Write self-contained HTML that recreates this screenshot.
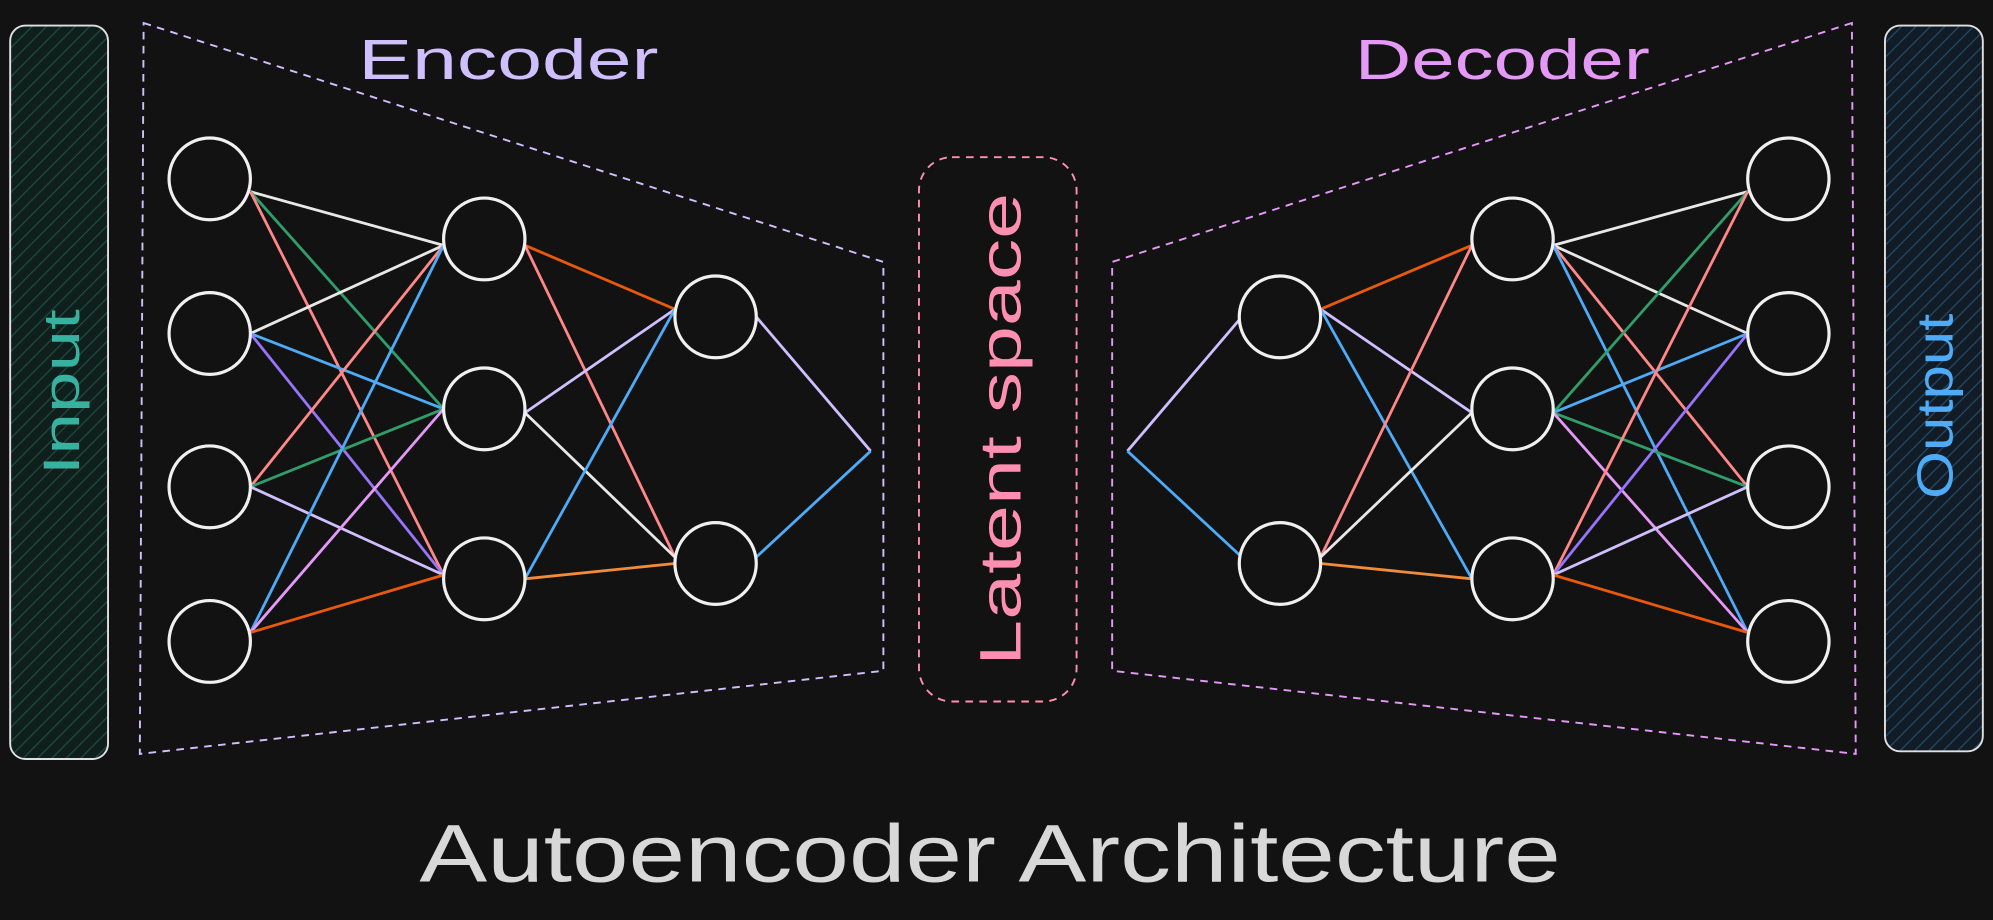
<!DOCTYPE html>
<html><head><meta charset="utf-8"><style>
html,body{margin:0;padding:0;background:#121212;}
svg{display:block;}
text{font-family:"Liberation Sans",sans-serif;}
</style></head><body>
<svg width="1993" height="920" viewBox="0 0 1568 720" preserveAspectRatio="none" xmlns="http://www.w3.org/2000/svg">
<defs>
<pattern id="hg" width="8" height="8" patternUnits="userSpaceOnUse" patternTransform="rotate(45)"><rect width="8" height="8" fill="#0f1f1c"/><line x1="0" y1="0" x2="0" y2="8" stroke="#1f4a40" stroke-width="2"/></pattern>
<pattern id="hb" width="8" height="8" patternUnits="userSpaceOnUse" patternTransform="rotate(45)"><rect width="8" height="8" fill="#111c26"/><line x1="0" y1="0" x2="0" y2="8" stroke="#234a66" stroke-width="2"/></pattern>
</defs>
<rect width="1568" height="720" fill="#121212"/>
<rect x="8" y="20" width="77" height="574" rx="12" fill="url(#hg)" stroke="#e0e0e0" stroke-width="1.5"/>
<text transform="translate(62,307) rotate(-90)" text-anchor="middle" font-size="40" fill="#38b2a0" textLength="130" lengthAdjust="spacingAndGlyphs">Input</text>
<rect x="1483" y="20" width="77" height="568" rx="12" fill="url(#hb)" stroke="#e0e0e0" stroke-width="1.5"/>
<text transform="translate(1536,318) rotate(-90)" text-anchor="middle" font-size="40" fill="#4dabf7" textLength="145" lengthAdjust="spacingAndGlyphs">Output</text>
<polygon points="113,18 695,205 695,525 110,590" fill="none" stroke="#d0bfff" stroke-width="1.5" stroke-dasharray="6,5"/>
<polygon points="1457,18 875,205 875,525 1460,590" fill="none" stroke="#e599f7" stroke-width="1.5" stroke-dasharray="6,5"/>
<rect x="723" y="123" width="124" height="426" rx="26" fill="none" stroke="#ff8fb0" stroke-width="1.5" stroke-dasharray="6,5"/>
<text transform="translate(803,336) rotate(-90)" text-anchor="middle" font-size="46" fill="#ff8fb0" textLength="370" lengthAdjust="spacingAndGlyphs">Latent space</text>
<text x="400" y="62" text-anchor="middle" font-size="44" fill="#d0bfff" textLength="236" lengthAdjust="spacingAndGlyphs">Encoder</text>
<text x="1182" y="62" text-anchor="middle" font-size="44" fill="#e599f7" textLength="232" lengthAdjust="spacingAndGlyphs">Decoder</text>
<text x="779" y="690" text-anchor="middle" font-size="64" fill="#d8d8d8" textLength="898" lengthAdjust="spacingAndGlyphs">Autoencoder Architecture</text>
<g stroke-width="2.2" fill="none">
<line x1="197" y1="150" x2="349" y2="192" stroke="#e8e8e8"/>
<line x1="197" y1="150" x2="349" y2="320" stroke="#2f9e6a"/>
<line x1="197" y1="150" x2="349" y2="450" stroke="#ff8787"/>
<line x1="197" y1="261" x2="349" y2="192" stroke="#e8e8e8"/>
<line x1="197" y1="261" x2="349" y2="320" stroke="#4dabf7"/>
<line x1="197" y1="261" x2="349" y2="450" stroke="#9775fa"/>
<line x1="197" y1="381" x2="349" y2="192" stroke="#ff8787"/>
<line x1="197" y1="381" x2="349" y2="320" stroke="#2f9e6a"/>
<line x1="197" y1="381" x2="349" y2="450" stroke="#d0bfff"/>
<line x1="197" y1="495" x2="349" y2="192" stroke="#4dabf7"/>
<line x1="197" y1="495" x2="349" y2="320" stroke="#e599f7"/>
<line x1="197" y1="495" x2="349" y2="450" stroke="#e8590c"/>
<line x1="413" y1="192" x2="531" y2="242" stroke="#e8590c"/>
<line x1="413" y1="192" x2="531" y2="436" stroke="#ff8787"/>
<line x1="413" y1="323" x2="531" y2="242" stroke="#d0bfff"/>
<line x1="413" y1="323" x2="531" y2="436" stroke="#e8e8e8"/>
<line x1="413" y1="453" x2="531" y2="242" stroke="#4dabf7"/>
<line x1="413" y1="453" x2="531" y2="441" stroke="#f08c3a"/>
<line x1="595" y1="248" x2="685" y2="353" stroke="#d0bfff"/>
<line x1="595" y1="436" x2="685" y2="353" stroke="#4dabf7"/>
<line x1="887" y1="353" x2="977" y2="248" stroke="#d0bfff"/>
<line x1="887" y1="353" x2="977" y2="436" stroke="#4dabf7"/>
<line x1="1039" y1="242" x2="1158" y2="192" stroke="#e8590c"/>
<line x1="1039" y1="242" x2="1158" y2="323" stroke="#d0bfff"/>
<line x1="1039" y1="242" x2="1158" y2="453" stroke="#4dabf7"/>
<line x1="1039" y1="436" x2="1158" y2="192" stroke="#ff8787"/>
<line x1="1039" y1="436" x2="1158" y2="323" stroke="#e8e8e8"/>
<line x1="1039" y1="441" x2="1158" y2="453" stroke="#f08c3a"/>
<line x1="1222" y1="192" x2="1375" y2="150" stroke="#e8e8e8"/>
<line x1="1222" y1="192" x2="1375" y2="261" stroke="#e8e8e8"/>
<line x1="1222" y1="192" x2="1375" y2="381" stroke="#ff8787"/>
<line x1="1222" y1="192" x2="1375" y2="495" stroke="#4dabf7"/>
<line x1="1222" y1="323" x2="1375" y2="150" stroke="#2f9e6a"/>
<line x1="1222" y1="323" x2="1375" y2="261" stroke="#4dabf7"/>
<line x1="1222" y1="323" x2="1375" y2="381" stroke="#2f9e6a"/>
<line x1="1222" y1="323" x2="1375" y2="495" stroke="#e599f7"/>
<line x1="1222" y1="450" x2="1375" y2="150" stroke="#ff8787"/>
<line x1="1222" y1="450" x2="1375" y2="261" stroke="#9775fa"/>
<line x1="1222" y1="450" x2="1375" y2="381" stroke="#d0bfff"/>
<line x1="1222" y1="450" x2="1375" y2="495" stroke="#e8590c"/>
</g>
<g fill="#121212" stroke="#f0f0f0" stroke-width="2.5">
<circle cx="165" cy="140" r="32"/><circle cx="165" cy="261" r="32"/><circle cx="165" cy="381" r="32"/><circle cx="165" cy="502" r="32"/>
<circle cx="381" cy="187" r="32"/><circle cx="381" cy="320" r="32"/><circle cx="381" cy="453" r="32"/>
<circle cx="563" cy="248" r="32"/><circle cx="563" cy="441" r="32"/>
<circle cx="1007" cy="248" r="32"/><circle cx="1007" cy="441" r="32"/>
<circle cx="1190" cy="187" r="32"/><circle cx="1190" cy="320" r="32"/><circle cx="1190" cy="453" r="32"/>
<circle cx="1407" cy="140" r="32"/><circle cx="1407" cy="261" r="32"/><circle cx="1407" cy="381" r="32"/><circle cx="1407" cy="502" r="32"/>
</g>
</svg>
</body></html>
